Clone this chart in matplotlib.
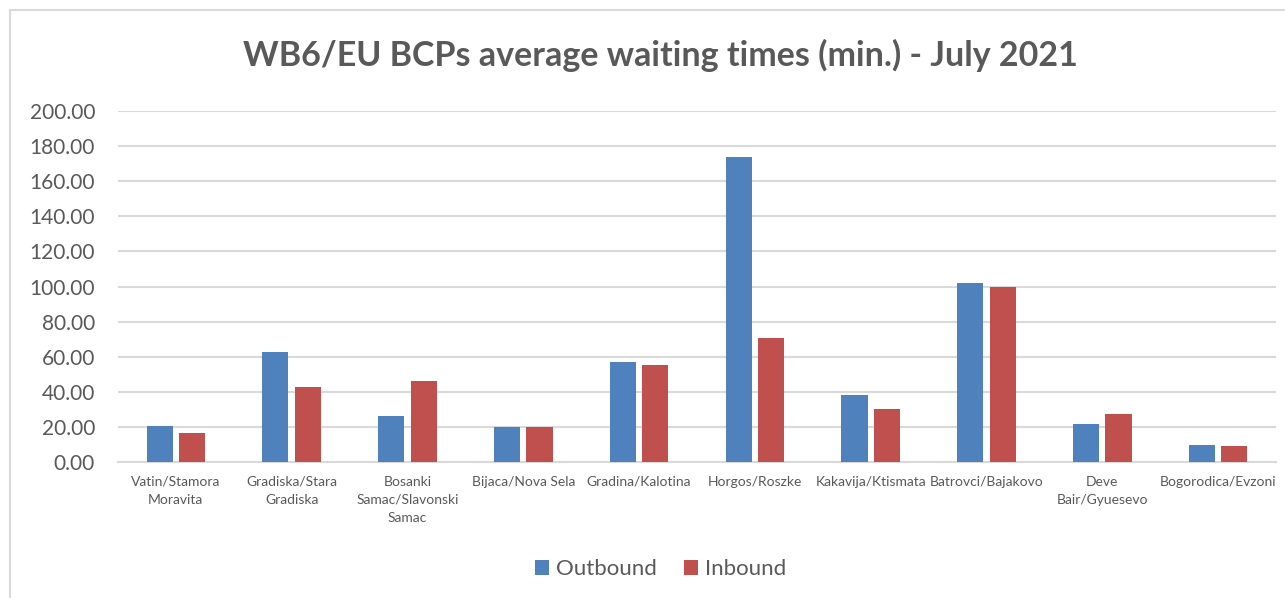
import matplotlib.pyplot as plt
import numpy as np
from matplotlib.patches import Rectangle

categories = ["Vatin/Stamora\nMoravita", "Gradiska/Stara\nGradiska",
              "Bosanki\nSamac/Slavonski\nSamac", "Bijaca/Nova Sela",
              "Gradina/Kalotina", "Horgos/Roszke", "Kakavija/Ktismata",
              "Batrovci/Bajakovo", "Deve\nBair/Gyuesevo", "Bogorodica/Evzoni"]
outbound = [20.5, 62.6, 26.2, 19.9, 57.0, 173.6, 38.2, 101.8, 21.6, 9.8]
inbound = [16.4, 42.6, 46.0, 19.9, 55.3, 70.6, 30.1, 100.0, 27.3, 9.4]
yticks = [0, 20, 40, 60, 80, 100, 120, 140, 160, 180, 200]

plt.rcParams['font.family'] = ['Lato', 'DejaVu Sans']
txt = "#595959"
grid = "#D9D9D9"

fig = plt.figure(figsize=(12.85, 5.98), dpi=100)
ax = fig.add_axes([0.0918, 0.2274, 0.9012, 0.587])

x = np.arange(len(categories))
w = 0.225
ax.bar(x - 0.14, outbound, w, color="#4F81BD", label="Outbound", zorder=3)
ax.bar(x + 0.14, inbound, w, color="#C0504D", label="Inbound", zorder=3)

ax.set_xlim(-0.5, len(categories) - 0.5)
ax.set_ylim(0, 200)
ax.set_yticks(yticks)
ax.set_yticklabels(["%.2f" % v for v in yticks], fontsize=15, color=txt)
ax.set_xticks(x)
ax.set_xticklabels(categories, fontsize=10, color=txt, linespacing=1.6)
ax.tick_params(axis="x", length=0, pad=10)
ax.tick_params(axis="y", length=0, pad=16.5)
ax.yaxis.grid(True, color=grid, linewidth=1.5, zorder=0)
for s in ["top", "right", "left"]:
    ax.spines[s].set_visible(False)
ax.spines["bottom"].set_color(grid)
ax.spines["bottom"].set_linewidth(1.5)

fig.text(0.514, 0.907, "WB6/EU BCPs average waiting times (min.) - July 2021",
         ha="center", va="center", fontsize=24.5, fontweight="bold", color=txt)

ax.legend(loc="center", bbox_to_anchor=(0.514, 0.048), bbox_transform=fig.transFigure,
          ncol=2, frameon=False, fontsize=16, labelcolor=txt,
          handlelength=0.65, handleheight=0.65, handletextpad=0.3, columnspacing=1.2)

fig.patches.append(Rectangle((0.008, -0.02), 1.1, 1.003, transform=fig.transFigure,
                             fill=False, edgecolor="#D9D9D9", linewidth=1.5))

fig.savefig("out.png", dpi=100)
